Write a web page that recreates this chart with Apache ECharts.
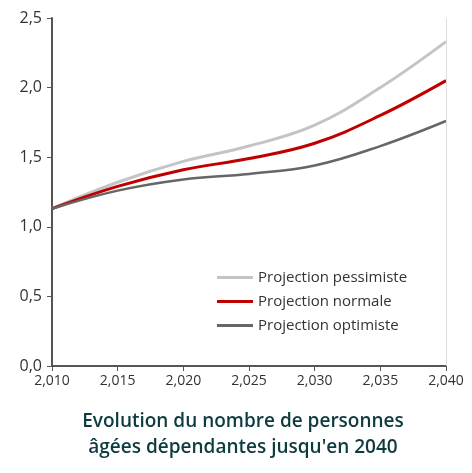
<!DOCTYPE html><html><head><meta charset="utf-8"><script src="https://cdn.jsdelivr.net/npm/echarts@6/dist/echarts.min.js"></script></head><body style="margin:0;background:#fff"><div id="c" style="width:472px;height:473px"></div><script>
const years=[2010,2015,2020,2025,2030,2035,2040];
const pessimiste=[1.13,1.32,1.47,1.58,1.73,2.00,2.33];
const normale=[1.13,1.29,1.41,1.49,1.60,1.80,2.05];
const optimiste=[1.13,1.26,1.34,1.38,1.44,1.58,1.76];
const yTicks={0:'0,0',0.5:'0,5',1:'1,0',1.5:'1,5',2:'2,0',2.5:'2,5'};
const f='Open Sans';
const ch=echarts.init(document.getElementById('c'));
const mk=(n,d,c,w)=>({name:n,type:'line',data:years.map((y,i)=>[y,d[i]]),smooth:0.4,showSymbol:false,lineStyle:{color:c,width:w},itemStyle:{color:c}});
ch.setOption({
title:{text:"Evolution du nombre de personnes\nâgées dépendantes jusqu'en 2040",left:238,textAlign:'center',top:404,textStyle:{fontFamily:f,fontSize:19,fontWeight:600,color:'#0d3b40',lineHeight:26}},
legend:{orient:'vertical',left:212,top:265,itemGap:9,itemWidth:36,itemHeight:3,icon:'rect',textStyle:{fontFamily:f,fontSize:15,color:'#333'},data:['Projection pessimiste','Projection normale','Projection optimiste']},
grid:{left:52,right:26,top:18,bottom:107},
xAxis:{type:'value',min:2010,max:2040,interval:5,axisLine:{lineStyle:{color:'#555',width:2}},axisTick:{show:true,length:5,lineStyle:{color:'#555'}},axisLabel:{fontFamily:f,fontSize:14,color:'#333',margin:8},splitLine:{show:false}},
yAxis:{type:'value',min:0,max:2.5,interval:0.5,axisLine:{show:true,lineStyle:{color:'#555',width:2}},axisTick:{show:true,length:5,lineStyle:{color:'#555'}},axisLabel:{fontFamily:f,fontSize:16,color:'#333',margin:10,formatter:v=>yTicks[v]},splitLine:{show:false}},
series:[mk('Projection pessimiste',pessimiste,'#c4c4c4',3),mk('Projection normale',normale,'#c00000',3),mk('Projection optimiste',optimiste,'#666',2.5),
{type:'line',data:[],markLine:{silent:true,symbol:'none',label:{show:false},lineStyle:{color:'#ddd',width:1,type:'solid'},data:[{xAxis:2040}]}}]
});
</script></body></html>
